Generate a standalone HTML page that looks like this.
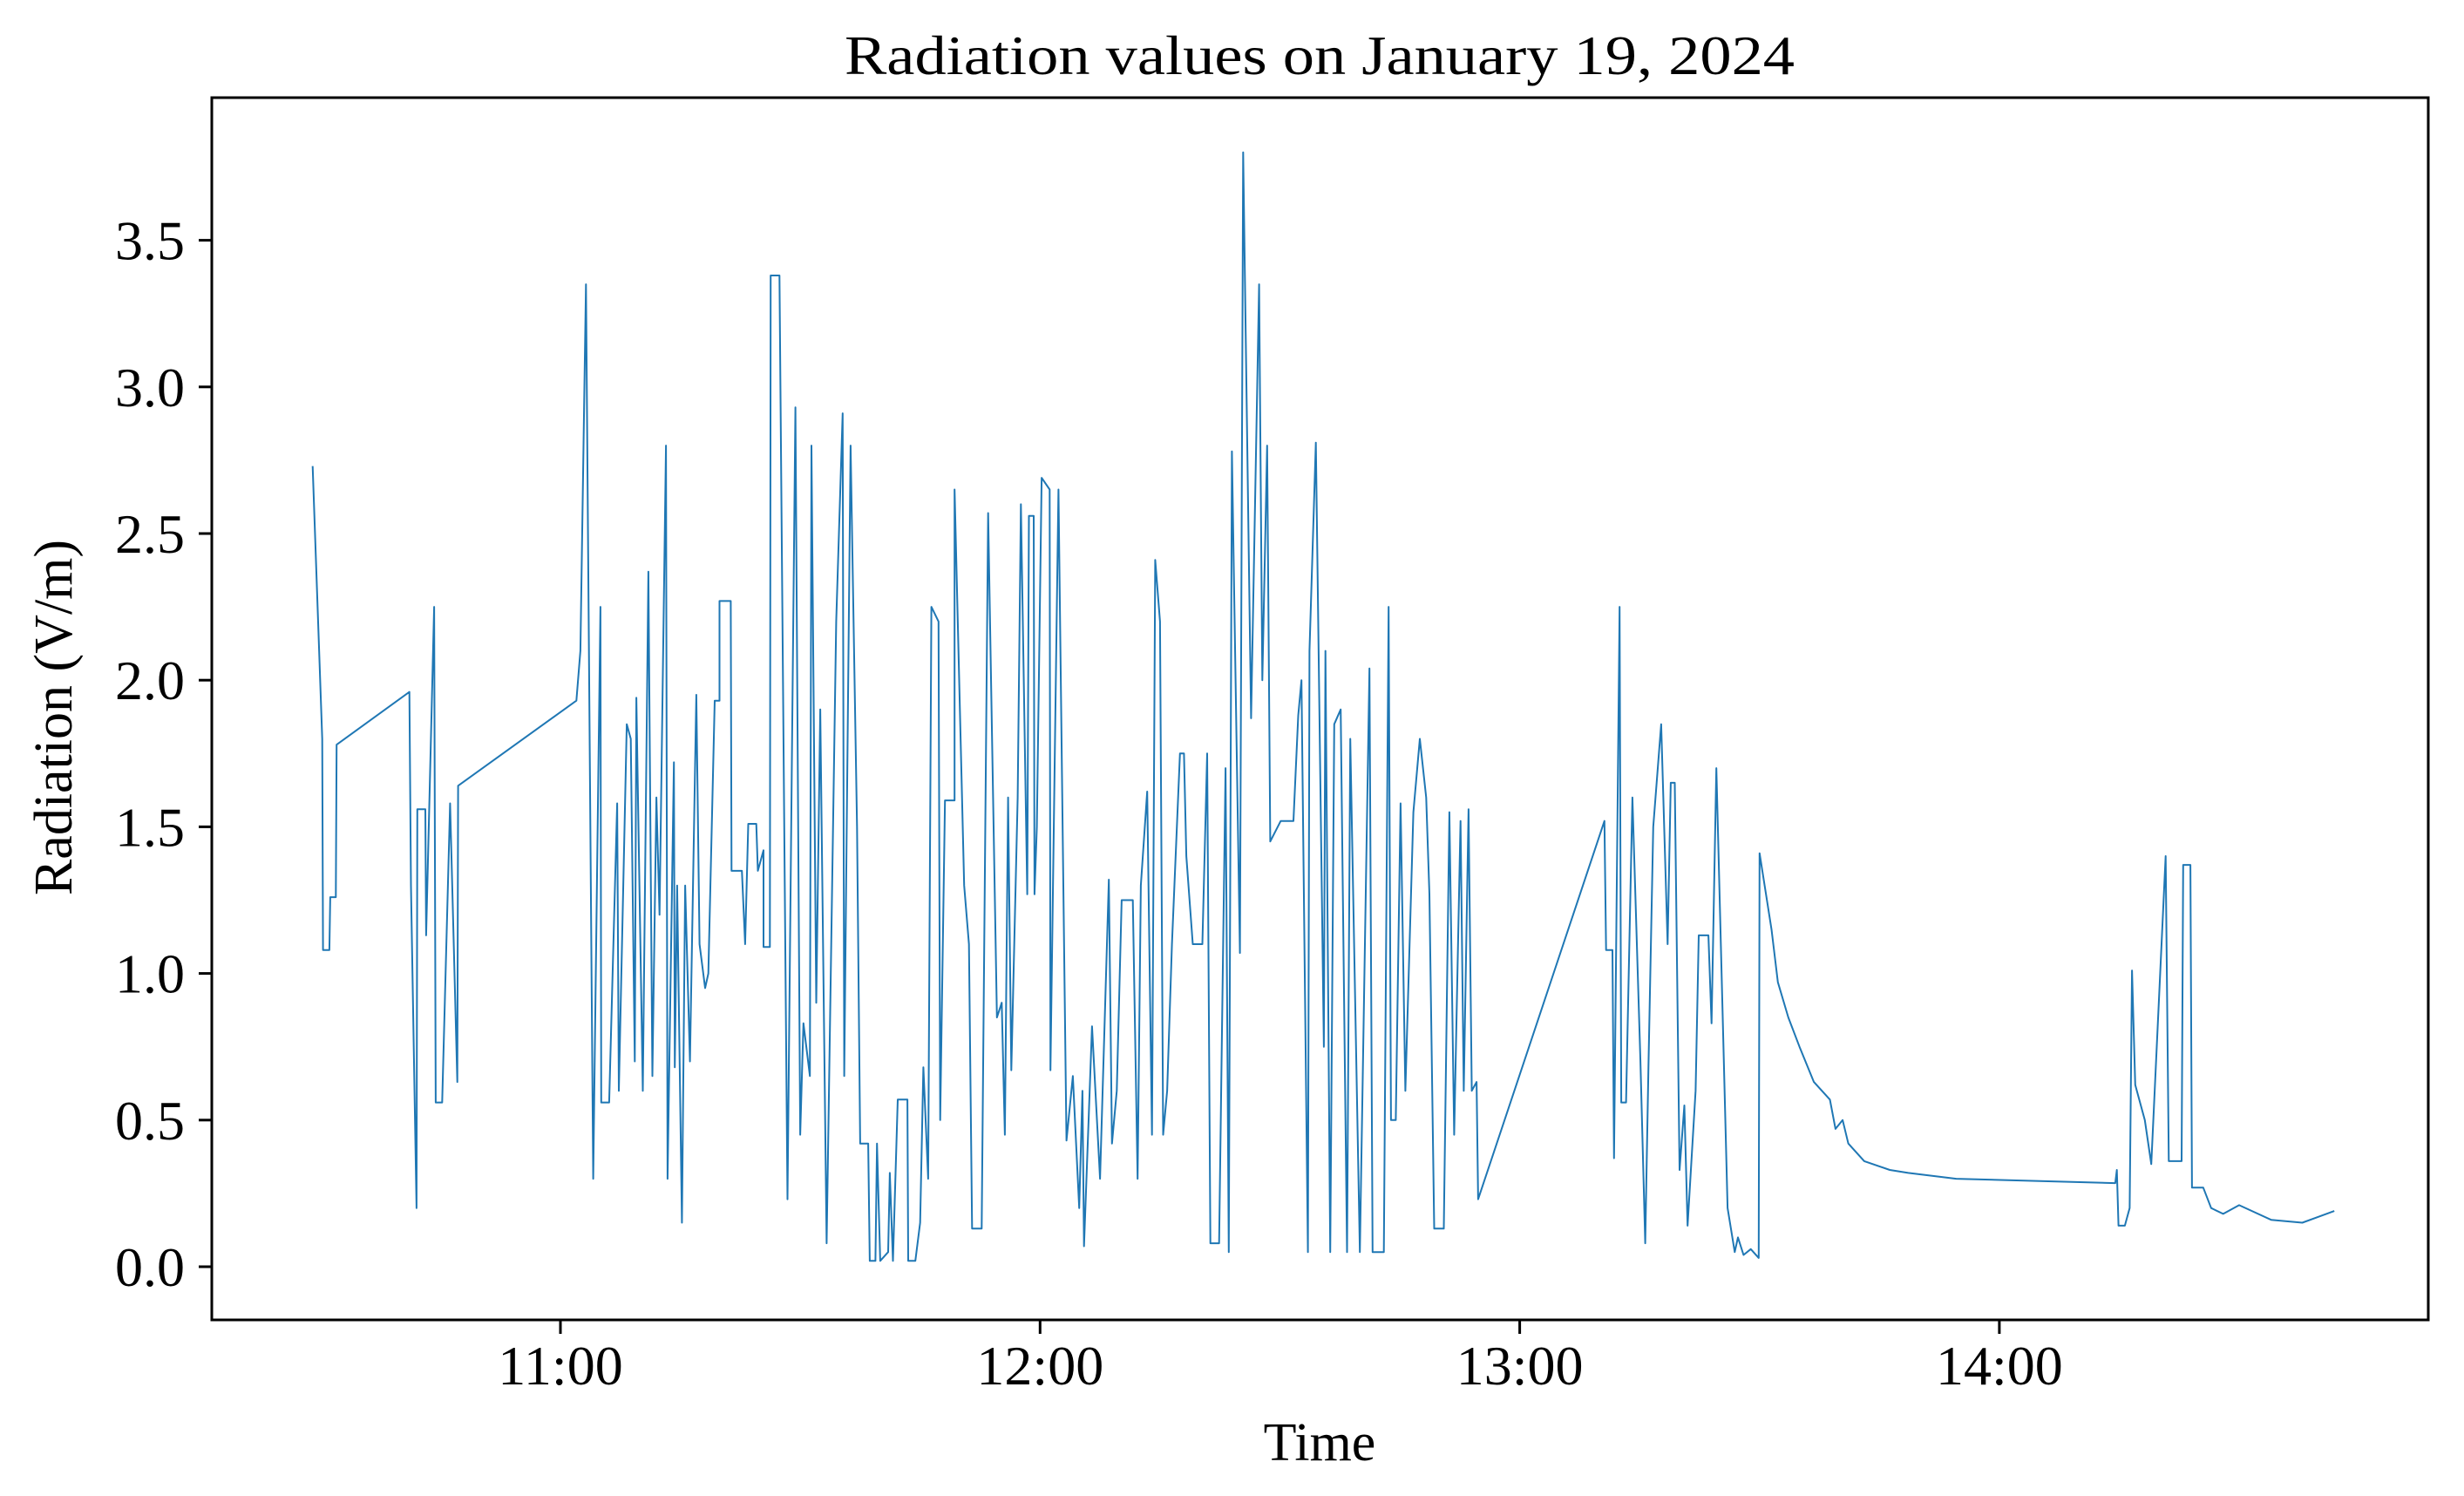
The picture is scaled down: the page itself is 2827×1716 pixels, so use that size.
<!DOCTYPE html>
<html><head><meta charset="utf-8"><style>
html,body{margin:0;padding:0;background:#fff;}
svg{display:block;}
text{font-family:"Liberation Serif","DejaVu Serif",serif;fill:#000;}
</style></head>
<body>
<svg id="chart" width="2827" height="1716" viewBox="0 0 2827 1716" xmlns="http://www.w3.org/2000/svg">
<rect x="0" y="0" width="2827" height="1716" fill="#fff"/>
<text x="1514" y="85" font-size="63" text-anchor="middle" textLength="1090" lengthAdjust="spacingAndGlyphs">Radiation values on January 19, 2024</text>
<g id="plot"></g>
<rect x="243" y="112" width="2543" height="1402" fill="none" stroke="#000" stroke-width="3"/>
<g id="yticks"></g>
<g id="xticks"></g>
<text x="1514" y="1675" font-size="62" text-anchor="middle">Time</text>
<text x="0" y="0" font-size="62" text-anchor="middle" transform="translate(82,823) rotate(-90)">Radiation (V/m)</text>
</svg>
<script>
// minutes since 10:00
const times = [29.0,30.2,30.3,31.1,31.2,31.9,32.0,41.1,41.3,42.0,42.1,43.1,43.2,44.2,44.4,45.2,46.2,47.1,47.2,62.0,62.5,63.2,64.1,65.0,65.1,66.1,67.1,67.3,68.3,68.8,69.3,69.5,70.3,71.0,71.5,72.0,72.4,73.2,73.4,74.2,74.3,74.6,75.2,75.6,76.2,77.0,77.4,78.1,78.5,79.3,79.9,79.9,81.3,81.4,82.7,83.1,83.5,84.5,84.7,85.4,85.4,86.2,86.3,87.4,88.4,89.4,90.0,90.4,91.2,91.4,92.0,92.5,93.3,94.5,95.3,95.5,96.3,97.1,97.5,98.5,98.7,99.4,99.6,100.0,101.0,101.2,101.6,102.2,103.4,103.5,104.4,105.0,105.4,106.0,106.4,107.3,107.5,108.1,109.3,109.3,110.5,111.1,111.5,112.7,113.5,114.6,115.2,115.6,116.0,116.4,117.2,117.6,118.4,118.6,119.2,119.3,119.6,120.2,121.2,121.3,122.3,123.3,124.1,124.9,125.3,125.5,126.5,127.5,128.6,129.0,129.6,130.2,131.6,132.2,132.6,133.4,134.0,134.4,135.0,135.4,135.9,136.5,137.5,138.0,138.3,139.1,140.3,140.9,141.3,142.4,143.2,143.6,144.0,145.0,145.4,146.4,147.4,147.8,148.4,148.8,150.1,151.7,152.3,152.7,153.5,153.7,154.5,155.5,155.7,156.3,156.8,157.6,158.4,158.8,160.0,161.2,161.6,163.0,163.6,163.9,164.5,165.1,165.7,166.7,167.5,168.3,168.7,169.3,170.5,171.2,171.8,172.6,173.0,173.6,174.0,174.6,174.8,190.6,190.8,191.6,191.8,192.5,192.7,193.3,194.1,195.1,195.7,196.1,196.7,197.7,198.5,198.9,199.4,200.0,200.6,201.0,202.0,202.4,203.6,204.0,204.6,206.0,206.9,207.3,208.0,208.9,209.9,210.0,211.5,212.3,213.6,215.0,216.8,218.8,219.5,220.4,221.1,223.1,226.3,228.6,234.6,254.5,254.7,254.9,255.7,256.3,256.6,257.0,258.2,259.0,260.8,261.2,262.8,263.0,263.9,264.1,265.5,266.5,268.0,270.0,274.0,277.9,281.9];
const values = [2.73,1.8,1.08,1.08,1.26,1.26,1.78,1.96,1.3,0.2,1.56,1.56,1.13,2.25,0.56,0.56,1.58,0.63,1.64,1.93,2.1,3.35,0.3,2.25,0.56,0.56,1.58,0.6,1.85,1.8,0.7,1.94,0.6,2.37,0.65,1.6,1.2,2.8,0.3,1.72,0.68,1.3,0.15,1.3,0.7,1.95,1.1,0.95,1.0,1.93,1.93,2.27,2.27,1.35,1.35,1.1,1.51,1.51,1.35,1.42,1.09,1.09,3.38,3.38,0.23,2.93,0.45,0.83,0.65,2.8,0.9,1.9,0.08,2.2,2.91,0.65,2.8,1.5,0.42,0.42,0.02,0.02,0.42,0.02,0.05,0.32,0.02,0.57,0.57,0.02,0.02,0.15,0.68,0.3,2.25,2.2,0.5,1.59,1.59,2.65,1.3,1.1,0.13,0.13,2.57,0.85,0.9,0.45,1.6,0.67,1.6,2.6,1.27,2.56,2.56,1.27,1.5,2.69,2.65,0.67,2.65,0.43,0.65,0.2,0.6,0.07,0.82,0.3,1.32,0.42,0.6,1.25,1.25,0.3,1.3,1.62,0.45,2.41,2.2,0.45,0.6,1.1,1.75,1.75,1.4,1.1,1.1,1.75,0.08,0.08,1.7,0.05,2.78,1.07,3.8,1.87,3.35,2.0,2.8,1.45,1.52,1.52,1.88,2.0,0.05,2.1,2.81,0.75,2.1,0.05,1.85,1.9,0.05,1.8,0.05,2.04,0.05,0.05,2.25,0.5,0.5,1.58,0.6,1.55,1.8,1.6,1.27,0.13,0.13,1.55,0.45,1.52,0.6,1.56,0.6,0.63,0.23,1.52,1.08,1.08,0.37,2.25,0.56,0.56,1.6,0.7,0.08,0.68,1.5,1.85,1.1,1.65,1.65,0.33,0.55,0.14,0.6,1.13,1.13,0.83,1.7,0.2,0.05,0.1,0.04,0.06,0.03,1.41,1.15,0.97,0.85,0.75,0.63,0.57,0.47,0.5,0.42,0.36,0.33,0.32,0.3,0.285,0.33,0.14,0.14,0.2,1.01,0.62,0.5,0.35,1.4,0.36,0.36,1.37,1.37,0.27,0.27,0.2,0.18,0.21,0.16,0.15,0.19];
const yTicks = [0.0,0.5,1.0,1.5,2.0,2.5,3.0,3.5];
const xTicks = [60,120,180,240];
const xTickLabels = ["11:00","12:00","13:00","14:00"];

const NS = "http://www.w3.org/2000/svg";
function xs(t){ return 643 + (t-60)*550.3/60; }
function ys(v){ return 1453 - v*336.4; }

const plot = document.getElementById('plot');
let d = "";
for (let i=0;i<times.length;i++){ d += (i?"L":"M") + xs(times[i]).toFixed(1) + "," + ys(values[i]).toFixed(1); }
const path = document.createElementNS(NS,'path');
path.setAttribute('d', d);
path.setAttribute('fill','none');
path.setAttribute('stroke','#1f77b4');
path.setAttribute('stroke-width','2');
path.setAttribute('stroke-linejoin','round');


plot.appendChild(path);

const yg = document.getElementById('yticks');
yTicks.forEach(v=>{
  const y = ys(v);
  const l = document.createElementNS(NS,'line');
  l.setAttribute('x1',228); l.setAttribute('x2',243); l.setAttribute('y1',y); l.setAttribute('y2',y);
  l.setAttribute('stroke','#000'); l.setAttribute('stroke-width','3');
  
  
  yg.appendChild(l);
  const t = document.createElementNS(NS,'text');
  t.setAttribute('x',212); t.setAttribute('y',y+22); t.setAttribute('font-size','64'); t.setAttribute('text-anchor','end');
  t.textContent = v.toFixed(1);
  
  
  yg.appendChild(t);
});
const xg = document.getElementById('xticks');
xTicks.forEach((m,i)=>{
  const x = xs(m);
  const l = document.createElementNS(NS,'line');
  l.setAttribute('x1',x); l.setAttribute('x2',x); l.setAttribute('y1',1514); l.setAttribute('y2',1530);
  l.setAttribute('stroke','#000'); l.setAttribute('stroke-width','3');
  
  
  xg.appendChild(l);
  const t = document.createElementNS(NS,'text');
  t.setAttribute('x',x); t.setAttribute('y',1588); t.setAttribute('font-size','64'); t.setAttribute('text-anchor','middle');
  t.textContent = xTickLabels[i];
  
  
  xg.appendChild(t);
});
</script>
</body></html>
